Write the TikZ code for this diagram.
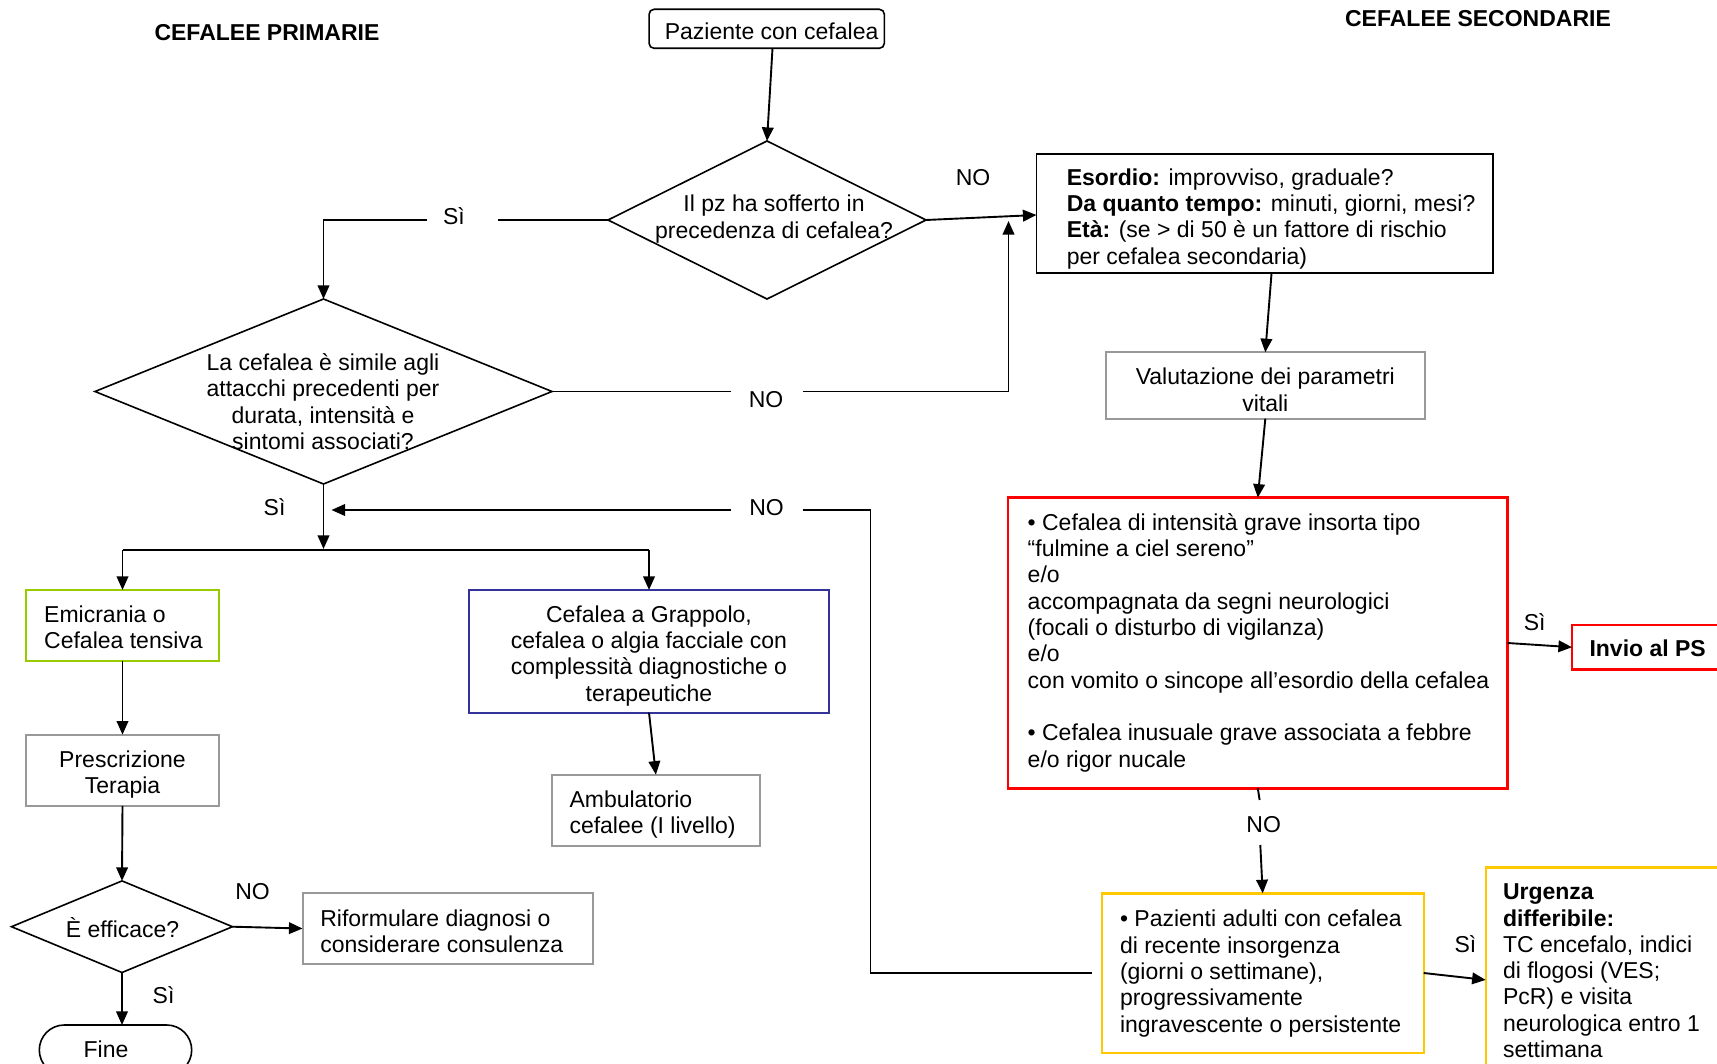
\documentclass[tikz,border=0pt]{standalone}
\usepackage{fontspec}
\setmainfont{Liberation Sans}
\usetikzlibrary{arrows.meta,shapes.geometric,shapes.misc}
\definecolor{cred}{HTML}{FF0000}
\definecolor{cyel}{HTML}{FFC800}
\definecolor{cgreen}{HTML}{99CC00}
\definecolor{cblue}{HTML}{333399}
\definecolor{cgray}{HTML}{999999}
\begin{document}
\begin{tikzpicture}[x=0.5pt,y=-0.5pt,
  every node/.style={font=\fontsize{11.5}{13.15}\selectfont, inner sep=0pt, outer sep=0pt},
  txt/.style={align=left, anchor=west},
  ctxt/.style={align=center},
  boxk/.style={draw=black, line width=0.8pt, rectangle},
  boxg/.style={draw=cgray, line width=1pt, rectangle},
  boxr/.style={draw=cred, line width=1.3pt, rectangle},
  boxy/.style={draw=cyel, line width=1.2pt, rectangle},
  boxgr/.style={draw=cgreen, line width=1pt, rectangle},
  boxb/.style={draw=cblue, line width=0.85pt, rectangle},
  dia/.style={diamond, draw=black, line width=0.8pt},
  conn/.style={line width=0.95pt},
  arr/.style={line width=0.95pt, -{Triangle[length=6.8pt,width=5.8pt]}},
  ttl/.style={font=\fontsize{11.5}{13.15}\selectfont\bfseries},
]
\useasboundingbox (0,0) rectangle (1717,1064);
\fill[white] (0,0) rectangle (1717,1064);
\clip (0,0) rectangle (1717,1064);

% titles
\node[ttl] (t1) at (267,32.3) {CEFALEE PRIMARIE};
\node[ttl] (t2) at (1478,18.8) {CEFALEE SECONDARIE};

% start
\node[boxk, rounded corners=2.5pt, minimum width=117.65pt, minimum height=19.5pt] (pz) at (766.7,28.8) {};
\node (pzt) at (771.6,31.7) {Paziente con cefalea};

% diamonds
\node[dia, minimum width=159pt, minimum height=79pt] (d1) at (767,220) {};
\node[ctxt] (d1t) at (774,219) {Il pz ha sofferto in\\precedenza di cefalea?};
\node[dia, minimum width=228.5pt, minimum height=92.5pt] (d2) at (323.5,391.5) {};
\node[ctxt] (d2t) at (323,401.5) {La cefalea è simile agli\\attacchi precedenti per\\durata, intensità e\\sintomi associati?};
\node[dia, minimum width=110.5pt, minimum height=45.8pt] (d3) at (122,926.7) {};
\node (d3t) at (122.6,928) {È efficace?};

% secondary side
\node[boxk, minimum width=228.25pt, minimum height=59.5pt] (es) at (1264.75,213.5) {};
\node[txt] (est) at (1066.8,218.8) {\textbf{Esordio:} improvviso, graduale?\\\textbf{Da quanto tempo:} minuti, giorni, mesi?\\\textbf{Età:} (se > di 50 è un fattore di rischio\\per cefalea secondaria)};
\node[boxg, minimum width=159.5pt, minimum height=33.2pt] (val) at (1265.3,385.5) {};
\node[ctxt] (valt) at (1265.3,389.8) {Valutazione dei parametri\\vitali};
\node[boxr, minimum width=249.8pt, minimum height=145.3pt] (red) at (1257.8,643) {};
\node[txt] (redt) at (1027.7,642.6) {• Cefalea di intensità grave insorta tipo\\“fulmine a ciel sereno”\\e/o\\accompagnata da segni neurologici\\(focali o disturbo di vigilanza)\\e/o\\con vomito o sincope all’esordio della cefalea\\[13.15pt]• Cefalea inusuale grave associata a febbre\\e/o rigor nucale};
\node[boxr, minimum width=90pt, minimum height=22.15pt] (ps) at (1662,647.2) {};
\node[txt, font=\fontsize{11.5}{13.15}\selectfont\bfseries] (pst) at (1589.5,648.5) {Invio al PS};
\node[boxy, minimum width=161pt, minimum height=79.7pt] (yel) at (1262.7,973) {};
\node[txt] (yelt) at (1120,973.5) {• Pazienti adulti con cefalea\\di recente insorgenza\\(giorni o settimane),\\progressivamente\\ingravescente o persistente};
\node[boxy, minimum width=130pt, minimum height=115pt] (urg) at (1615.7,982.3) {};
\node[txt] (urgt) at (1503,970.8) {\textbf{Urgenza}\\\textbf{differibile:}\\TC encefalo, indici\\di flogosi (VES;\\PcR) e visita\\neurologica entro 1\\settimana};

% primary side
\node[boxgr, minimum width=96.75pt, minimum height=35.35pt] (emi) at (122.5,625.3) {};
\node[txt] (emit) at (44.2,627.5) {Emicrania o\\Cefalea tensiva};
\node[boxb, minimum width=180pt, minimum height=61.35pt] (grap) at (649,651.3) {};
\node[ctxt] (grapt) at (649,655.6) {Cefalea a Grappolo,\\cefalea o algia facciale con\\complessità diagnostiche o\\terapeutiche};
\node[boxg, minimum width=103.65pt, minimum height=35.5pt] (amb) at (655.9,810.2) {};
\node[txt] (ambt) at (569.5,814.2) {Ambulatorio\\cefalee (I livello)};
\node[boxg, minimum width=96.75pt, minimum height=35.65pt] (pre) at (122.5,770.3) {};
\node[ctxt] (pret) at (122.5,774.3) {Prescrizione\\Terapia};
\node[boxg, minimum width=145pt, minimum height=35.5pt] (rif) at (447.5,928.5) {};
\node[txt] (rift) at (320.3,931.3) {Riformulare diagnosi o\\considerare consulenza};
\node[draw=black, line width=0.8pt, rounded rectangle, minimum width=76.2pt, minimum height=25pt] (fine) at (115.5,1050) {};
\node (finet) at (106,1049) {Fine};

% labels
\node (l1) at (454,216.5) {Sì};
\node (l2) at (973,177.5) {NO};
\node (l3) at (766,399.5) {NO};
\node (l4) at (274.6,507) {Sì};
\node (l5) at (766.5,507.5) {NO};
\node (l6) at (1534.7,622.5) {Sì};
\node (l7) at (1263.7,824.5) {NO};
\node (l8) at (1465.4,943.7) {Sì};
\node (l9) at (252.6,891.2) {NO};
\node (l10) at (163.6,995.5) {Sì};

% coordinates
\coordinate (c1a) at (498,220);
\coordinate (c1b) at (427,220);
\coordinate (c2a) at (731,391.5);
\coordinate (c2b) at (803,391.5);
\coordinate (j1) at (1008.5,221);
\coordinate (c3a) at (870.5,973);
\coordinate (c3b) at (870.5,510);
\coordinate (c3c) at (803,510);
\coordinate (c3d) at (731,510);
\coordinate (c3e) at (331.5,510);
\coordinate (br0) at (323.5,549);
\coordinate (bl) at (122.5,550);
\coordinate (brr) at (649,550);
\coordinate (c4a) at (1259.6,800);
\coordinate (c4b) at (1260.3,845);

% connectors
\draw[arr] ([xshift=2.9pt]pz.south) -- (d1.north);
\draw[conn] (d1.west) -- (c1a);
\draw[arr] (c1b) -| (d2.north);
\draw[arr] (d1.east) -- ([yshift=-0.75pt]es.west);
\draw[conn] (d2.east) -- (c2a);
\draw[arr] (c2b) -| (j1);
\draw[arr] ([xshift=3.4pt]es.south) -- (val.north);
\draw[arr] (val.south) -- (red.north);
\draw[arr] (red.east) -- (ps.west);
\draw[conn] (red.south) -- (c4a);
\draw[arr] (c4b) -- (yel.north);
\draw[arr] (yel.east) -- ([yshift=1.2pt]urg.west);
\draw[conn] ([xshift=-5pt]yel.west) -- (c3a) -- (c3b) -- (c3c);
\draw[arr] (c3d) -- (c3e);
\draw[arr] (d2.south) -- (br0);
\draw[line width=1.3pt] (bl) -- (brr);
\draw[arr] (bl) -- (emi.north);
\draw[arr] (brr) -- (grap.north);
\draw[arr] (grap.south) -- (amb.north);
\draw[arr] (emi.south) -- (pre.north);
\draw[arr] (pre.south) -- (d3.north);
\draw[arr] (d3.east) -- (rif.west);
\draw[arr] (d3.south) -- (d3.south |- fine.north);
\end{tikzpicture}
\end{document}
